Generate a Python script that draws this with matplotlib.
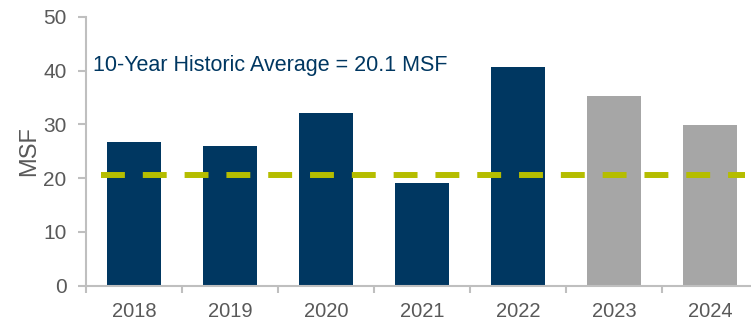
import numpy as np
import matplotlib.pyplot as plt

plt.rcParams["font.family"] = ["Liberation Sans", "DejaVu Sans"]

years = ["2018", "2019", "2020", "2021", "2022", "2023", "2024"]
msf = [26.7, 26.0, 32.1, 19.2, 40.7, 35.3, 29.9]
is_forecast = [False, False, False, False, False, True, True]
avg_line = 20.6
avg_label = "10-Year Historic Average = 20.1 MSF"

NAVY = "#003761"
GREY = "#A6A6A6"
LIME = "#B5BD00"
TEXT = "#595959"
AXIS = "#BFBFBF"

fig = plt.figure(figsize=(7.51, 3.22), dpi=100)
ax = fig.add_axes([86 / 751, 1 - 285.7 / 322, 672 / 751, 268.7 / 322])

x = np.arange(len(years))
colors = [GREY if f else NAVY for f in is_forecast]
ax.bar(x, msf, width=0.57, color=colors, zorder=2)

# dashed average line
ax.plot([-0.344, 6.365], [avg_line, avg_line], color=LIME, lw=4.3,
        dashes=(4, 3), solid_capstyle="butt", dash_capstyle="butt", zorder=3)

ax.text(-0.427, 40, avg_label, color=NAVY, fontsize=15.5, va="baseline", ha="left")

ax.set_xlim(-0.5, len(years) - 0.5)
ax.set_ylim(0, 50)
ax.set_yticks(range(0, 51, 10))
ax.set_xticks(x)
ax.set_xticklabels(years)
ax.set_xticks(np.arange(-0.5, len(years), 1), minor=True)
ax.set_ylabel("MSF", color=TEXT, fontsize=17, labelpad=2)

for side in ("top", "right"):
    ax.spines[side].set_visible(False)
for side in ("left", "bottom"):
    ax.spines[side].set_color(AXIS)
    ax.spines[side].set_linewidth(1.5)

ax.tick_params(axis="y", colors=AXIS, labelcolor=TEXT, labelsize=15,
               length=6, width=1.5, pad=8)
ax.tick_params(axis="x", which="major", length=0, labelcolor=TEXT,
               labelsize=14.5, pad=12)
ax.tick_params(axis="x", which="minor", colors=AXIS, length=5, width=1.5)

fig.savefig("out.png", dpi=100)
